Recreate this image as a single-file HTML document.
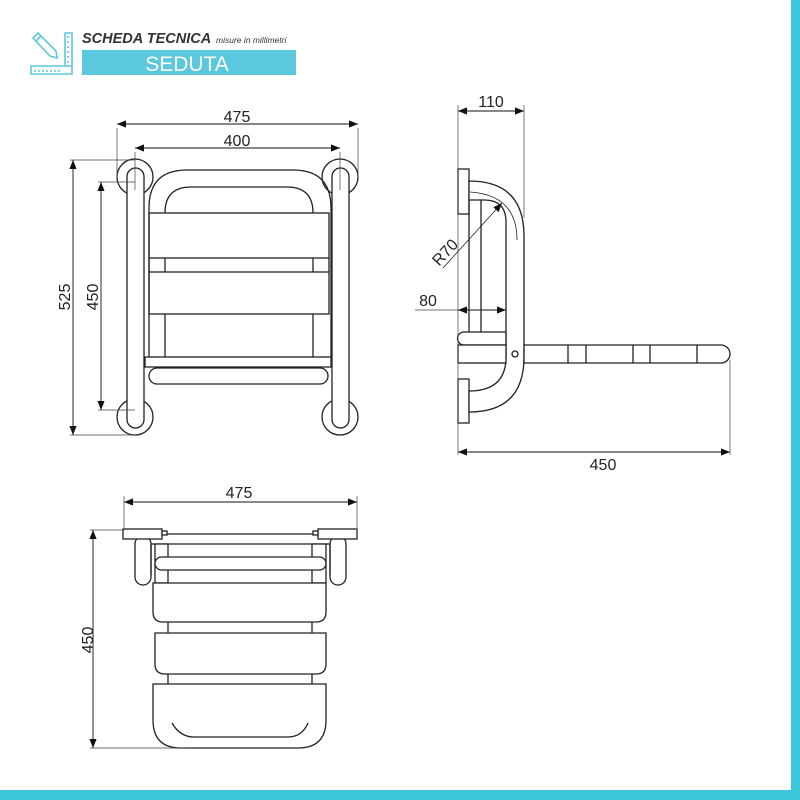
<!DOCTYPE html>
<html><head><meta charset="utf-8"><style>
html,body{margin:0;padding:0;background:#fff;}
svg{display:block}
text{font-family:"Liberation Sans",sans-serif;fill:#222}
</style></head><body>
<svg width="800" height="800" viewBox="0 0 800 800" xmlns="http://www.w3.org/2000/svg">
<defs>
<marker id="a" viewBox="0 0 10 10" refX="10" refY="5" markerWidth="9" markerHeight="9" orient="auto-start-reverse" markerUnits="userSpaceOnUse"><path d="M0,1 L10,5 L0,9z" fill="#111"/></marker>
</defs>
<rect x="0" y="0" width="800" height="800" fill="#fff"/>
<rect x="791" y="0" width="9" height="800" fill="#3cc6da"/>
<rect x="0" y="790" width="800" height="10" fill="#3cc6da"/>
<!-- header -->
<g stroke="#5cc8dc" stroke-width="1.6" fill="none">
<path d="M33,38 L38,33 L56,51 L57,58 L50,56 Z M36,41 L41,36"/>
<path d="M65,33 H72 V74 H31 V66 H65 Z M65,66 H72"/>
<path d="M35,70 v2 M39,70 v2 M43,70 v2 M47,70 v2 M51,70 v2 M55,70 v2 M59,70 v2 M67,37 h2 M67,42 h2 M67,47 h2 M67,52 h2 M67,57 h2 M67,62 h2"/>
</g>
<text x="82" y="43" font-size="14.5" font-style="italic" font-weight="bold" style="fill:#333">SCHEDA TECNICA</text>
<text x="216" y="43" font-size="8.5" font-style="italic" style="fill:#333">misure in millimetri</text>
<rect x="82" y="50" width="214" height="25" fill="#5cc8dd"/>
<text x="187" y="71" font-size="21" text-anchor="middle" style="fill:#fff">SEDUTA</text>

<g stroke="#222" stroke-width="1.3" fill="none">
<!-- FRONT VIEW -->
<circle cx="135" cy="177" r="18" fill="#fff"/>
<circle cx="135" cy="417" r="18" fill="#fff"/>
<circle cx="340" cy="177" r="18" fill="#fff"/>
<circle cx="340" cy="417" r="18" fill="#fff"/>
<rect x="127" y="168" width="17" height="260" rx="8.5" fill="#fff"/>
<rect x="332" y="168" width="17" height="260" rx="8.5" fill="#fff"/>
<path d="M149,357 V208 Q149,170 187,170 H293 Q331,170 331,208 V357"/>
<path d="M165,213 Q165,187 191,187 H287 Q313,187 313,213"/>
<rect x="149" y="213" width="180" height="45"/>
<path d="M165,258 V272 M313,258 V272 M149,258 V272 M329,258 V272"/>
<rect x="149" y="272" width="180" height="42"/>
<path d="M165,314 V357 M313,314 V357"/>
<rect x="145" y="357" width="186" height="10" fill="#fff"/>
<rect x="149" y="368" width="179" height="16" rx="8" fill="#fff"/>
</g>
<g stroke="#444" stroke-width="0.7" fill="none">
<path d="M117,128 V178 M358,128 V178 M135,152 V190 M340,152 V190"/>
<path d="M70,160 H135 M70,435 H135 M98,182 H135 M98,410 H135"/>
</g>
<g stroke="#111" stroke-width="0.9">
<line x1="117" y1="124" x2="358" y2="124" marker-start="url(#a)" marker-end="url(#a)"/>
<line x1="135" y1="148" x2="340" y2="148" marker-start="url(#a)" marker-end="url(#a)"/>
<line x1="73" y1="160" x2="73" y2="435" marker-start="url(#a)" marker-end="url(#a)"/>
<line x1="101" y1="182" x2="101" y2="410" marker-start="url(#a)" marker-end="url(#a)"/>
</g>
<text x="237" y="122" font-size="16" text-anchor="middle">475</text>
<text x="237" y="146" font-size="16" text-anchor="middle">400</text>
<text transform="translate(70,297) rotate(-90)" font-size="16" text-anchor="middle">525</text>
<text transform="translate(98,297) rotate(-90)" font-size="16" text-anchor="middle">450</text>

<!-- SIDE VIEW -->
<g stroke="#222" stroke-width="1.3" fill="#fff">
<rect x="458" y="169" width="11" height="45"/>
<rect x="458" y="379" width="11" height="44"/>
<path d="M469,181 Q524,181 524,236 V357 Q524,412 469,412 V391 Q506,391 506,357 V222 Q506,200 484,200 H469 Z"/>
<path d="M469,200 V332 M481,200 V332" fill="none"/>
<path d="M464,332 H506 V345 H464 A6.5,6.5 0 0 1 464,332 Z"/>
<rect x="458" y="345" width="48" height="18"/>
<path d="M524,345 H721 A9,9 0 0 1 721,363 H524 Z"/>
<path d="M568,345 V363 M586,345 V363 M633,345 V363 M650,345 V363 M697,345 V363" fill="none"/>
<circle cx="515" cy="354" r="3"/>
<path d="M470,192 Q517,195 517,240" fill="none" stroke-width="0.8"/>
</g>
<g stroke="#444" stroke-width="0.7" fill="none">
<path d="M458,105 V455 M524,105 V218 M730,360 V455 M415,310 H458"/>
</g>
<g stroke="#111" stroke-width="0.9">
<line x1="458" y1="111" x2="524" y2="111" marker-start="url(#a)" marker-end="url(#a)"/>
<line x1="458" y1="310" x2="506" y2="310" marker-start="url(#a)" marker-end="url(#a)"/>
<line x1="458" y1="452" x2="730" y2="452" marker-start="url(#a)" marker-end="url(#a)"/>
<line x1="443" y1="268" x2="502" y2="203" marker-end="url(#a)" stroke-width="0.7"/>
</g>
<text x="491" y="107" font-size="16" text-anchor="middle">110</text>
<text x="428" y="306" font-size="16" text-anchor="middle">80</text>
<text x="603" y="470" font-size="16" text-anchor="middle">450</text>
<text transform="translate(449,256) rotate(-47)" font-size="16" text-anchor="middle">R70</text>

<!-- TOP VIEW -->
<g stroke="#222" stroke-width="1.3" fill="#fff">
<rect x="135" y="536" width="16" height="49" rx="8"/>
<rect x="330" y="536" width="16" height="49" rx="8"/>
<path d="M151,544 H330 M151,544 V575 M330,544 V575" fill="none"/>
<rect x="155" y="544" width="13" height="39"/>
<rect x="312" y="544" width="14" height="39"/>
<rect x="155" y="557" width="171" height="13" rx="6.5"/>
<rect x="123" y="529" width="39" height="10"/>
<rect x="318" y="529" width="39" height="10"/>
<path d="M162,534 H318" fill="none"/>
<rect x="162" y="531" width="5" height="4"/>
<rect x="313" y="531" width="5" height="4"/>
<path d="M168,622 V633 M312,622 V633 M168,674 V684 M312,674 V684" fill="none"/>
<path d="M153,583 H326 V612 Q326,622 316,622 H163 Q153,622 153,612 Z"/>
<path d="M155,633 H326 V664 Q326,674 316,674 H165 Q155,674 155,664 Z"/>
<path d="M153,684 H326 V720 Q326,748 298,748 H181 Q153,748 153,720 Z"/>
<path d="M172,723 Q180,737 194,737 H288 Q302,737 308,723" fill="none"/>
</g>
<g stroke="#444" stroke-width="0.7" fill="none">
<path d="M124,496 V530 M357,496 V530 M90,530 H124 M90,748 H185"/>
</g>
<g stroke="#111" stroke-width="0.9">
<line x1="124" y1="502" x2="357" y2="502" marker-start="url(#a)" marker-end="url(#a)"/>
<line x1="93" y1="530" x2="93" y2="748" marker-start="url(#a)" marker-end="url(#a)"/>
</g>
<text x="239" y="498" font-size="16" text-anchor="middle">475</text>
<text transform="translate(93,640) rotate(-90)" font-size="16" text-anchor="middle">450</text>
</svg>
</body></html>
